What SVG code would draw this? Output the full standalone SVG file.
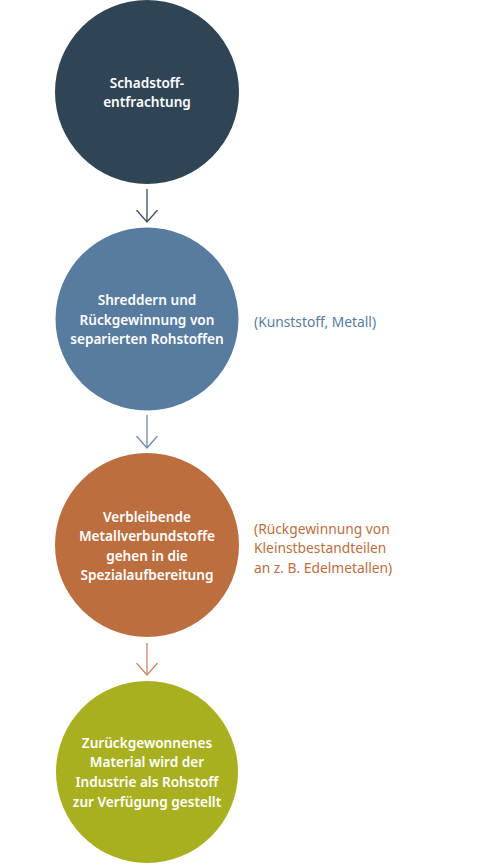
<svg xmlns="http://www.w3.org/2000/svg" width="480" height="865" viewBox="0 0 480 865">
<style>
.lbl{font-family:"Noto Sans","Open Sans","Liberation Sans",sans-serif;font-size:13.6px;font-weight:600;fill:#ffffff;text-anchor:middle}
.side{font-family:"Noto Sans","Open Sans","Liberation Sans",sans-serif;font-size:13.8px;font-weight:400}
.conn{fill:none;stroke-width:1.3}
</style>
<defs>
<marker id="a1" markerUnits="userSpaceOnUse" viewBox="0 -11 13 22" refX="12" refY="0" markerWidth="13" markerHeight="22" orient="auto"><path d="M0,-10.5 L12,0 L0,10.5" fill="none" stroke="#3b4b58" stroke-width="1.3"/></marker>
<marker id="a2" markerUnits="userSpaceOnUse" viewBox="0 -11 13 22" refX="12" refY="0" markerWidth="13" markerHeight="22" orient="auto"><path d="M0,-10.5 L12,0 L0,10.5" fill="none" stroke="#6a8aa8" stroke-width="1.3"/></marker>
<marker id="a3" markerUnits="userSpaceOnUse" viewBox="0 -11 13 22" refX="12" refY="0" markerWidth="13" markerHeight="22" orient="auto"><path d="M0,-10.5 L12,0 L0,10.5" fill="none" stroke="#c48764" stroke-width="1.3"/></marker>
</defs>
<rect width="480" height="865" fill="#ffffff"/>
<g id="connectors">
<line class="conn" x1="147" y1="189" x2="147" y2="222" stroke="#3b4b58" marker-end="url(#a1)"/>
<line class="conn" x1="147" y1="415" x2="147" y2="448" stroke="#6a8aa8" marker-end="url(#a2)"/>
<line class="conn" x1="147" y1="643" x2="147" y2="675" stroke="#c48764" marker-end="url(#a3)"/>
</g>
<g id="node1">
<circle cx="147" cy="92" r="92" fill="#2f4556"/>
<text class="lbl" x="147" y="88">Schadstoff-</text>
<text class="lbl" x="147" y="107">entfrachtung</text>
</g>
<g id="node2">
<circle cx="147" cy="319" r="91.5" fill="#587c9f"/>
<text class="lbl" x="147" y="305">Shreddern und</text>
<text class="lbl" x="147" y="325">Rückgewinnung von</text>
<text class="lbl" x="147" y="344">separierten Rohstoffen</text>
</g>
<g id="note2">
<text class="side" x="254" y="327" fill="#587c9f">(Kunststoff, Metall)</text>
</g>
<g id="node3">
<circle cx="147" cy="545" r="92" fill="#bc6e3f"/>
<text class="lbl" x="147" y="522">Verbleibende</text>
<text class="lbl" x="147" y="541">Metallverbundstoffe</text>
<text class="lbl" x="147" y="561">gehen in die</text>
<text class="lbl" x="147" y="580">Spezialaufbereitung</text>
</g>
<g id="note3">
<text class="side" x="254" y="534" fill="#bc6e3f">(Rückgewinnung von</text>
<text class="side" x="254" y="553" fill="#bc6e3f">Kleinstbestandteilen</text>
<text class="side" x="254" y="573" fill="#bc6e3f">an z. B. Edelmetallen)</text>
</g>
<g id="node4">
<circle cx="147" cy="772" r="91" fill="#a9b01f"/>
<text class="lbl" x="147" y="748">Zurückgewonnenes</text>
<text class="lbl" x="147" y="767">Material wird der</text>
<text class="lbl" x="147" y="787">Industrie als Rohstoff</text>
<text class="lbl" x="147" y="807">zur Verfügung gestellt</text>
</g>
</svg>
